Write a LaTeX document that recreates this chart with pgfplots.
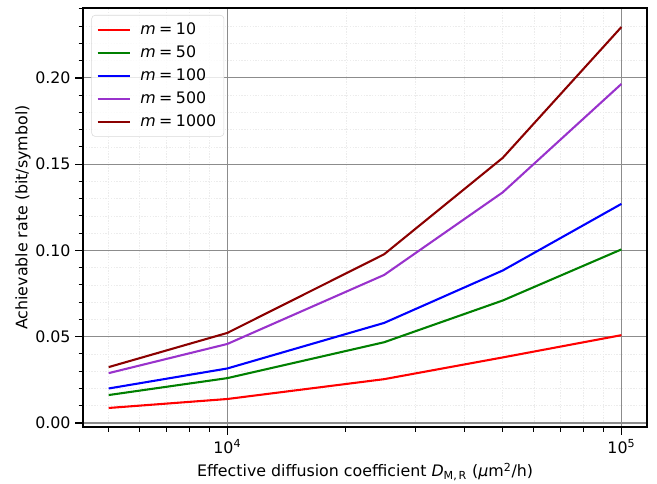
\documentclass[border=0pt]{standalone}
\usepackage{fontspec}
\setmainfont{DejaVu Sans}
\usepackage{pgfplots}
\pgfplotsset{compat=1.18}
\definecolor{mred}{rgb}{1,0,0}
\definecolor{mgreen}{rgb}{0,0.5,0}
\definecolor{mblue}{rgb}{0,0,1}
\definecolor{mpurple}{rgb}{0.6,0.196,0.8}
\definecolor{mdarkred}{rgb}{0.545,0,0}
\newcommand{\meq}[1]{\textit{m}\hspace{0.22em}=\hspace{0.22em}#1}
\begin{document}
\begin{tikzpicture}
\begin{axis}[
  scale only axis,
  width=406pt, height=301.7pt,
  xmode=log,
  xmin=4305, xmax=116150,
  ymin=-0.0024, ymax=0.2405,
  xtick={10000,100000},
  xticklabels={10\textsuperscript{4},10\textsuperscript{5}},
  minor xtick={5000,6000,7000,8000,9000,20000,30000,40000,50000,60000,70000,80000,90000},
  ytick={0,0.05,0.1,0.15,0.2},
  minor ytick={0.01,0.02,0.03,0.04,0.06,0.07,0.08,0.09,0.11,0.12,0.13,0.14,0.16,0.17,0.18,0.19,0.21,0.22,0.23,0.24},
  yticklabel style={/pgf/number format/.cd,fixed,fixed zerofill,precision=2,assume math mode=true},
  tick align=outside,
  xtick pos=bottom, ytick pos=left,
  major tick length=5.5pt, minor tick length=3.2pt,
  every tick/.style={black, line width=0.9pt},
  minor tick style={line width=0.7pt},
  axis line style={line width=0.9pt},
  grid=both,
  major grid style={gray!90, line width=0.8pt},
  minor grid style={gray!15, line width=0.6pt, dash pattern=on 1pt off 1pt},
  tick label style={font=\fontsize{11.4}{13.5}\selectfont},
  label style={font=\fontsize{11.4}{13.5}\selectfont},
  xlabel={Effective diffusion coefficient \textit{D}\textsubscript{M,\,R} (\textit{μ}m\textsuperscript{2}/h)},
  ylabel={Achievable rate (bit/symbol)},
  ylabel style={yshift=-3.5pt},
  legend cell align=left,
  legend style={at={(axis description cs:0,1)}, anchor=north west, xshift=6pt, yshift=-5pt,
    draw=gray!30, rounded corners=2.5pt, fill=white, fill opacity=0.8, text opacity=1,
    font=\fontsize{11.4}{13.5}\selectfont, row sep=2.6pt, inner xsep=3.5pt, inner ysep=3.5pt},
  legend image code/.code={\draw[#1] (0pt,0pt) -- (23pt,0pt); \path (28pt,0pt);},
  every axis plot/.append style={line width=1.5pt},
]
\addplot[mred] coordinates {(5000,0.0087) (10000,0.0139) (25000,0.0254) (50000,0.0380) (100000,0.0509)};
\addlegendentry{\meq{10}}
\addplot[mgreen] coordinates {(5000,0.0162) (10000,0.0260) (25000,0.0468) (50000,0.0710) (100000,0.1006)};
\addlegendentry{\meq{50}}
\addplot[mblue] coordinates {(5000,0.0200) (10000,0.0316) (25000,0.0580) (50000,0.0884) (100000,0.1270)};
\addlegendentry{\meq{100}}
\addplot[mpurple] coordinates {(5000,0.0289) (10000,0.0458) (25000,0.0858) (50000,0.1337) (100000,0.1965)};
\addlegendentry{\meq{500}}
\addplot[mdarkred] coordinates {(5000,0.0324) (10000,0.0522) (25000,0.0978) (50000,0.1537) (100000,0.2295)};
\addlegendentry{\meq{1000}}
\end{axis}
\pgfresetboundingbox
\path (current axis.south west) ++(-59.8pt,-40.3pt) coordinate (bbsw);
\path (current axis.north east) ++(7.2pt,5.8pt) coordinate (bbne);
\useasboundingbox (bbsw) rectangle (bbne);
\end{tikzpicture}
\end{document}
